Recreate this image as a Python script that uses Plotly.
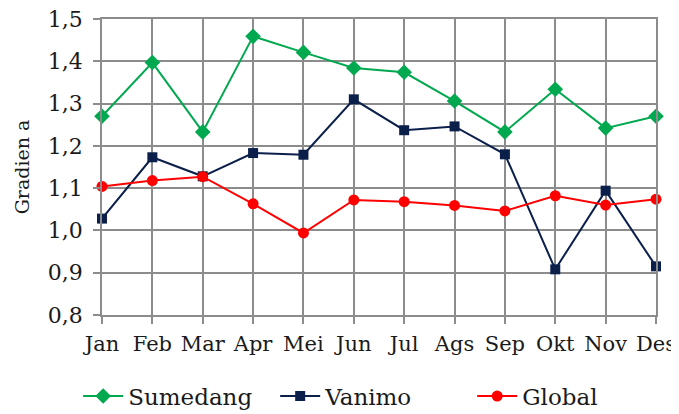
import plotly.graph_objects as go

bulan = ['Jan', 'Feb', 'Mar', 'Apr', 'Mei', 'Jun', 'Jul', 'Ags', 'Sep', 'Okt', 'Nov', 'Des']
sumedang = [1.270, 1.397, 1.233, 1.459, 1.421, 1.384, 1.374, 1.306, 1.233, 1.334, 1.242, 1.270]
vanimo = [1.028, 1.173, 1.128, 1.183, 1.179, 1.310, 1.237, 1.246, 1.180, 0.908, 1.094, 0.915]
global_ = [1.104, 1.118, 1.127, 1.063, 0.994, 1.072, 1.068, 1.059, 1.046, 1.082, 1.060, 1.074]

font = 'DejaVu Serif'
grid = '#8c8c8c'

fig = go.Figure()
fig.add_trace(go.Scatter(x=bulan, y=sumedang, name='Sumedang', mode='lines+markers',
                         line=dict(color='#00a84f', width=2),
                         marker=dict(symbol='diamond', size=12, color='#00a84f'),
                         cliponaxis=False))
fig.add_trace(go.Scatter(x=bulan, y=vanimo, name='Vanimo', mode='lines+markers',
                         line=dict(color='#0b1f4b', width=2),
                         marker=dict(symbol='square', size=10, color='#0b1f4b'),
                         cliponaxis=False))
fig.add_trace(go.Scatter(x=bulan, y=global_, name='Global', mode='lines+markers',
                         line=dict(color='#ff0000', width=2),
                         marker=dict(symbol='circle', size=11, color='#ff0000'),
                         cliponaxis=False))

# the page body adds 8px, so the figure is a bit smaller than the window
fig.update_layout(
    width=671, height=406,
    margin=dict(l=94, r=23, t=11, b=99, autoexpand=False),
    paper_bgcolor='white', plot_bgcolor='white',
    separators=', ',
    font=dict(family=font, size=21, color='#1a1a1a'),
    showlegend=True,
    legend=dict(orientation='h', x=-0.043, xanchor='left', y=-0.274, yanchor='middle',
                font=dict(size=23), itemwidth=40, tracegroupgap=0,
                entrywidth=142, entrywidthmode='pixels'),
)
fig.update_xaxes(range=[0, 11], showgrid=True, gridcolor=grid, gridwidth=1.5,
                 showline=True, linecolor=grid, linewidth=1.5, mirror=True,
                 ticks='outside', ticklen=7, tickcolor=grid, tickwidth=1.5,
                 ticklabelstandoff=2, tickfont=dict(size=21))
fig.update_yaxes(range=[0.8, 1.5], dtick=0.1, tickformat='.1f', showgrid=True,
                 gridcolor=grid, gridwidth=1.5, zeroline=False,
                 showline=True, linecolor=grid, linewidth=1.5, mirror=True,
                 ticks='outside', ticklen=7, tickcolor=grid, tickwidth=1.5,
                 ticklabelstandoff=6, ticklabeloverflow='allow', tickfont=dict(size=22),
                 title=dict(text='Gradien a', font=dict(size=19), standoff=13))

fig.write_html("out.html")
